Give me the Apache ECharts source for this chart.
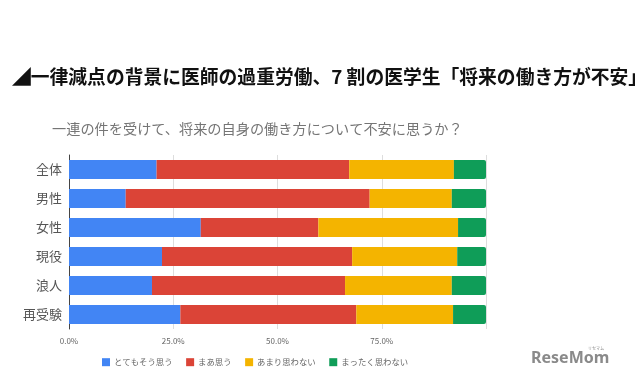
<!DOCTYPE html>
<html><head><meta charset="utf-8">
<script src="https://cdn.jsdelivr.net/npm/echarts@6/dist/echarts.min.js"></script>
<style>html,body{margin:0;padding:0;background:#fff}#c{width:639px;height:386px}</style>
</head><body><div id="c"></div>
<script>
const categories = ['全体','男性','女性','現役','浪人','再受験'];
const seriesNames = ['とてもそう思う','まあ思う','あまり思わない','まったく思わない'];
const veryMuch = [21.0, 13.6, 31.6, 22.3, 19.9, 26.7];
const somewhat = [46.2, 58.5, 28.2, 45.6, 46.3, 42.2];
const notMuch  = [25.1, 19.7, 33.5, 25.2, 25.6, 23.2];
const notAtAll = [7.7, 8.2, 6.7, 6.9, 8.2, 7.9];
const tickLabels = ['0.0%','25.0%','50.0%','75.0%',''];
const colors = ['#4285F4','#DB4437','#F4B400','#0F9D58'];
const FONT = '"Noto Sans CJK JP", "Noto Sans", sans-serif';

const chart = echarts.init(document.getElementById('c'), null, {renderer:'canvas'});
const data = [veryMuch, somewhat, notMuch, notAtAll];
chart.setOption({
  animation:false,
  textStyle:{fontFamily:FONT},
  title:[{
    text:'◢一律減点の背景に医師の過重労働、7 割の医学生「将来の働き方が不安」',
    left:7, top:62,
    textStyle:{fontFamily:FONT, fontSize:18.8, fontWeight:'bold', color:'#111'}
  },{
    text:'一連の件を受けて、将来の自身の働き方について不安に思うか？',
    left:47, top:117,
    textStyle:{fontFamily:FONT, fontSize:14.2, fontWeight:'normal', color:'#757575'}
  }],
  legend:{
    top:353, left:97,
    itemWidth:8, itemHeight:8, itemGap:13.5,
    icon:'rect',
    textStyle:{fontFamily:FONT, fontSize:8.4, color:'#666', padding:[0,0,0,-1]},
    data:seriesNames
  },
  grid:{left:69, right:153, top:155, bottom:57, containLabel:false},
  xAxis:{
    type:'value', min:0, max:100, interval:25,
    axisLine:{show:false}, axisTick:{show:false},
    splitLine:{lineStyle:{color:'#ddd'}},
    axisLabel:{fontSize:8, color:'#666', margin:8,
      formatter:function(v){ return tickLabels[Math.round(v/25)]; }}
  },
  yAxis:{
    type:'category', data:categories, inverse:true,
    axisLine:{show:true, lineStyle:{color:'#444'}},
    axisTick:{show:false},
    axisLabel:{fontSize:13, color:'#555', margin:7}
  },
  series: seriesNames.map((n,i)=>({
    name:n, type:'bar', stack:'total', data:data[i],
    barWidth:'66%',
    itemStyle:{color:colors[i], borderRadius: i===3?[0,2,2,0]:0}
  })),
  graphic:[{
    type:'text', left:531, top:350,
    style:{text:'ReseMom', fill:'#8a8a8a', font:'bold 16px "Noto Sans", sans-serif'}
  },{
    type:'text', left:588, top:346,
    style:{text:'リセマム', fill:'#8a8a8a', font:'4px "Noto Sans CJK JP", sans-serif'}
  }]
});
</script></body></html>
